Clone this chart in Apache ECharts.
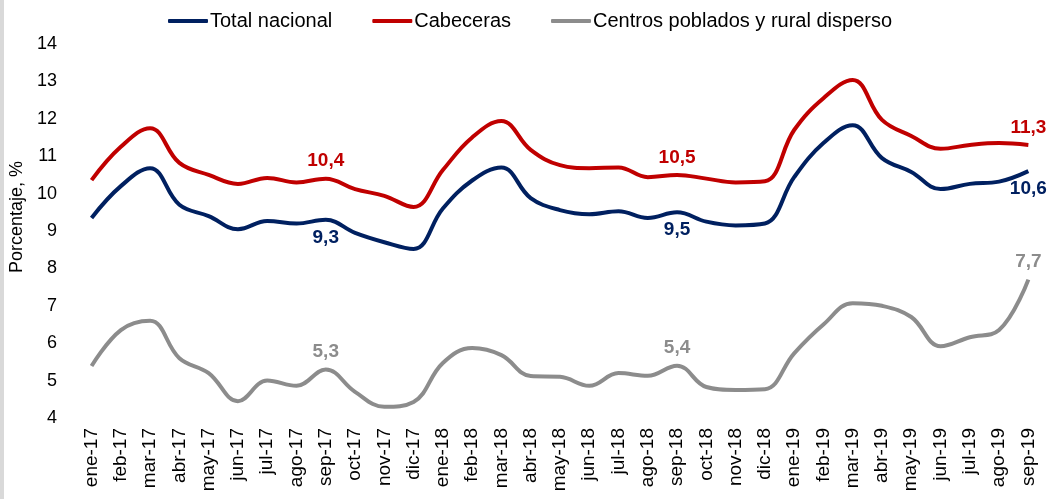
<!DOCTYPE html>
<html>
<head>
<meta charset="utf-8">
<script src="https://cdn.jsdelivr.net/npm/echarts@6/dist/echarts.min.js"></script>
<style>
  html, body { margin: 0; padding: 0; background: #fff; }
  #chart { width: 1049px; height: 499px; }
</style>
</head>
<body>
<div id="chart"></div>
<script>
const months = ['ene-17','feb-17','mar-17','abr-17','may-17','jun-17','jul-17','ago-17','sep-17','oct-17','nov-17','dic-17',
  'ene-18','feb-18','mar-18','abr-18','may-18','jun-18','jul-18','ago-18','sep-18','oct-18','nov-18','dic-18',
  'ene-19','feb-19','mar-19','abr-19','may-19','jun-19','jul-19','ago-19','sep-19'];

const totalNacional = [9.35,10.2,10.68,9.7,9.4,9.05,9.27,9.2,9.3,8.95,8.7,8.52,
  9.6,10.35,10.7,9.88,9.56,9.45,9.53,9.35,9.5,9.25,9.15,9.2,
  10.44,11.35,11.83,10.95,10.58,10.12,10.26,10.32,10.6];

const cabeceras = [10.36,11.25,11.75,10.82,10.5,10.26,10.42,10.3,10.4,10.12,9.94,9.64,
  10.63,11.5,11.94,11.17,10.76,10.68,10.7,10.44,10.5,10.4,10.3,10.33,
  11.7,12.55,13.04,11.97,11.54,11.2,11.3,11.35,11.3];

const centros = [5.39,6.35,6.6,5.6,5.2,4.45,5.0,4.86,5.3,4.7,4.3,4.43,
  5.47,5.87,5.68,5.12,5.1,4.86,5.2,5.13,5.4,4.83,4.75,4.77,
  5.73,6.5,7.07,7.0,6.7,5.92,6.16,6.35,7.7];

const labelIdx = [8, 20, 32];

const chart = echarts.init(document.getElementById('chart'));
const fmt = p => p.value.toFixed(1).replace('.', ',');

function mkSeries(name, values, color, pos) {
  return {
    name: name,
    type: 'line',
    smooth: 0.4,
    symbol: 'circle',
    symbolSize: 0.1,
    showSymbol: true,
    showAllSymbol: true,
    lineStyle: { color: color, width: 4 },
    itemStyle: { color: color },
    data: values.map((v, i) => labelIdx.includes(i) ? {
      value: v,
      label: {
        show: true, position: pos, distance: 8, formatter: fmt,
        color: color, fontSize: 19, fontWeight: 'bold'
      }
    } : v)
  };
}

chart.setOption({
  animation: false,
  textStyle: { fontFamily: 'Liberation Sans, Arial, sans-serif' },
  graphic: [{ type: 'rect', shape: { x: 0, y: 0, width: 4, height: 499 }, style: { fill: '#d9d9d9' } }],
  legend: {
    top: 6,
    left: 163,
    itemWidth: 40,
    itemHeight: 4,
    itemGap: 40,
    textStyle: { fontSize: 20, color: '#000', padding: [0, 0, 0, -3] },
    data: [
      { name: 'Total nacional', icon: 'roundRect' },
      { name: 'Cabeceras', icon: 'roundRect' },
      { name: 'Centros poblados y rural disperso', icon: 'roundRect' }
    ]
  },
  grid: { left: 73, right: 6, top: 44, bottom: 81 },
  xAxis: {
    type: 'category',
    data: months,
    boundaryGap: true,
    axisLine: { show: false },
    axisTick: { show: false },
    axisLabel: { rotate: 90, fontSize: 19, color: '#000', margin: 10, interval: 0 }
  },
  yAxis: {
    type: 'value',
    min: 4,
    max: 14,
    interval: 1,
    name: 'Porcentaje, %',
    nameLocation: 'middle',
    nameGap: 44,
    nameTextStyle: { fontSize: 18, color: '#000', padding: [0, 0, 0, 28] },
    axisLine: { show: false },
    axisTick: { show: false },
    splitLine: { show: false },
    axisLabel: { fontSize: 18, color: '#000', margin: 20 }
  },
  series: [
    mkSeries('Total nacional', totalNacional, '#002060', 'bottom'),
    mkSeries('Cabeceras', cabeceras, '#C00000', 'top'),
    mkSeries('Centros poblados y rural disperso', centros, '#8C8C8C', 'top')
  ]
});
</script>
</body>
</html>
